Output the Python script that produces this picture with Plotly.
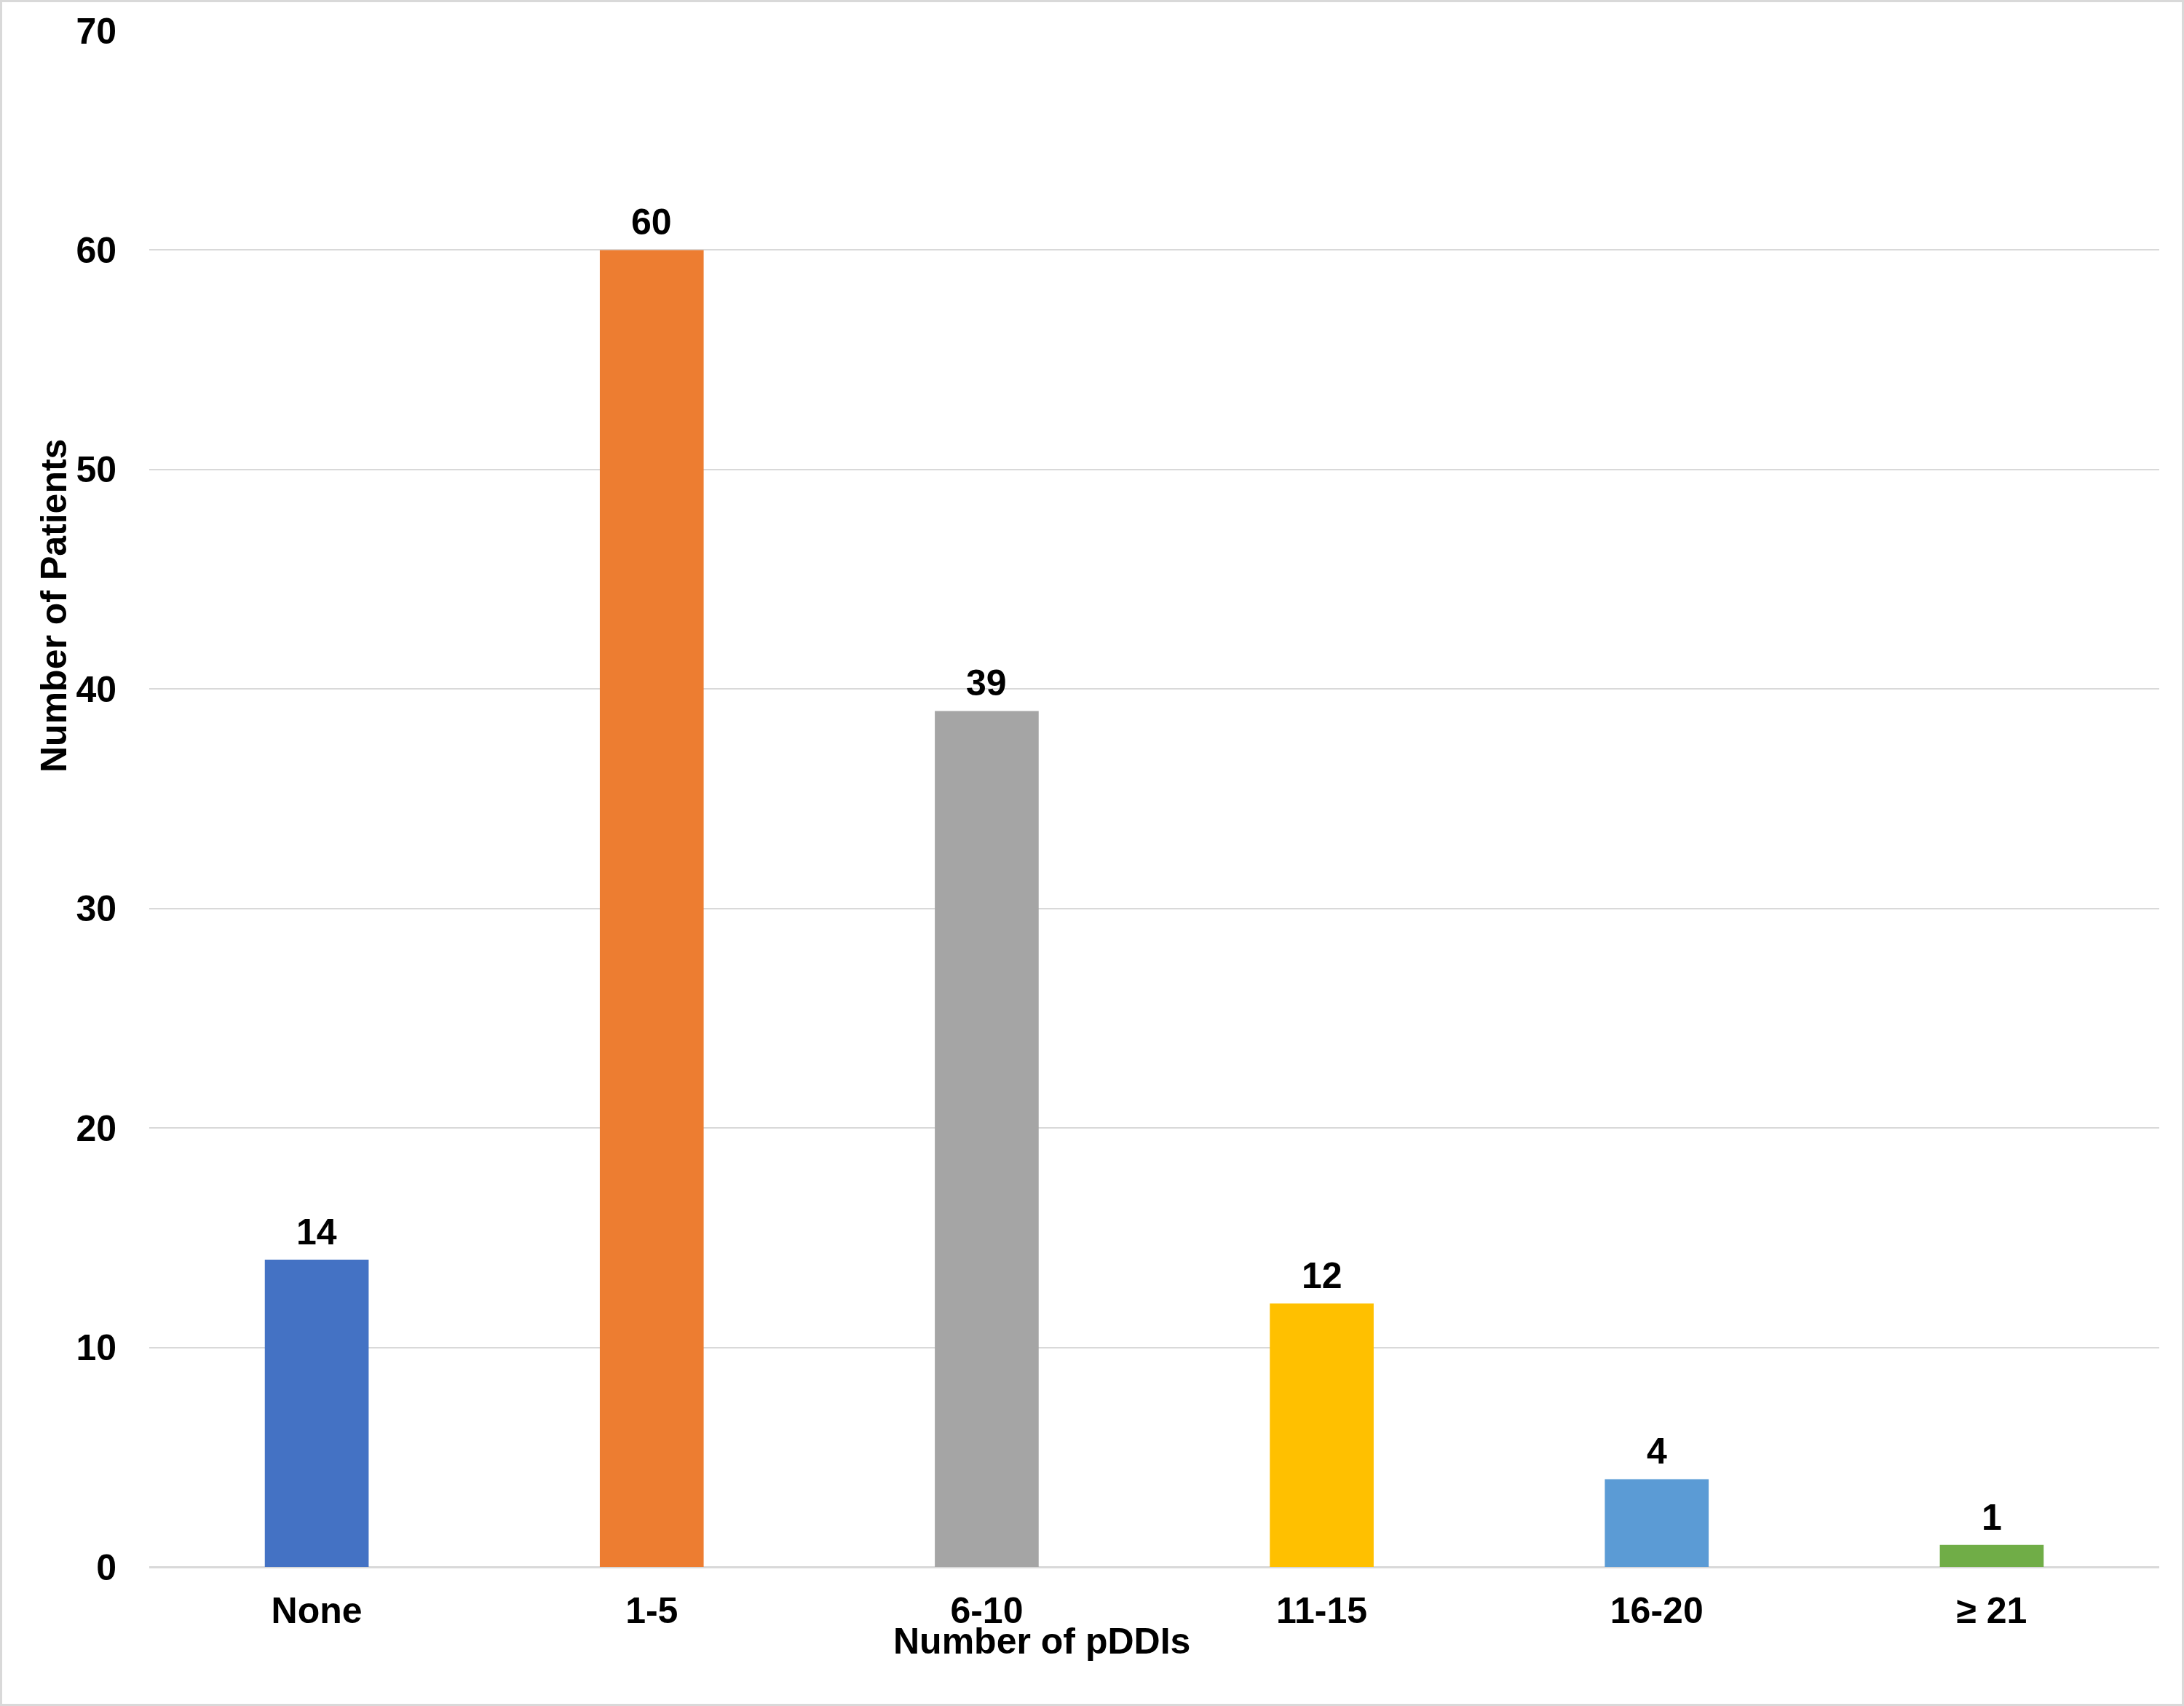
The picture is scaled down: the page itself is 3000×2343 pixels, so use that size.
import plotly.graph_objects as go

categories = ["None", "1-5", "6-10", "11-15", "16-20", "≥ 21"]
patients = [14, 60, 39, 12, 4, 1]
colors = ["#4472C4", "#ED7D31", "#A5A5A5", "#FFC000", "#5B9BD5", "#70AD47"]
y_ticks = [0, 10, 20, 30, 40, 50, 60, 70]

W, H = 3000, 2343
ml, mr, mt, mb = 205, 34, 42, 191
pw, ph = W - ml - mr, H - mt - mb

FONT = "Liberation Sans, Arial, sans-serif"
FS = 50

fig = go.Figure()
fig.add_trace(go.Bar(
    x=categories, y=patients,
    marker=dict(color=colors, line=dict(width=0)),
    width=0.31,
    hoverinfo="x+y",
))

label_annotations = [
    dict(x=c, y=v, xref="x", yref="y", text=str(v), showarrow=False,
         xanchor="center", yanchor="bottom", yshift=8,
         font=dict(family=FONT, size=FS, color="black", weight="bold"))
    for c, v in zip(categories, patients)
]

fig.update_layout(
    width=W, height=H,
    margin=dict(l=ml, r=mr, t=mt, b=mb),
    paper_bgcolor="white", plot_bgcolor="white",
    showlegend=False,
    font=dict(family=FONT, color="black"),
    xaxis=dict(
        showgrid=False, showline=False, zeroline=False,
        tickfont=dict(family=FONT, size=FS, color="black", weight="bold"),
        ticks="", ticklabelstandoff=26,
    ),
    yaxis=dict(
        range=[0, 70], tickvals=y_ticks,
        showgrid=True, gridcolor="#D9D9D9", gridwidth=2,
        zeroline=True, zerolinecolor="#D9D9D9", zerolinewidth=3,
        showline=False, ticks="",
        tickfont=dict(family=FONT, size=FS, color="black", weight="bold"),
        ticklabelstandoff=44,
    ),
    annotations=label_annotations + [
        dict(text="Number of pDDIs", xref="paper", yref="paper",
             x=(1431 - ml) / pw, y=(H - mb - 2254) / ph,
             xanchor="center", yanchor="middle", showarrow=False,
             font=dict(family=FONT, size=FS, color="black", weight="bold")),
        dict(text="Number of Patients", xref="paper", yref="paper",
             x=(74 - ml) / pw, y=(H - mb - 832) / ph, textangle=-90,
             xanchor="center", yanchor="middle", showarrow=False,
             font=dict(family=FONT, size=FS, color="black", weight="bold")),
    ],
    shapes=[
        dict(type="rect", xref="paper", yref="paper",
             x0=(1.5 - ml) / pw, x1=(W - 1.5 - ml) / pw,
             y0=(-mb + 1.5) / ph, y1=(H - mb - 1.5) / ph,
             line=dict(color="#D9D9D9", width=3), fillcolor="rgba(0,0,0,0)",
             layer="below"),
    ],
)

fig.write_html("out.html")
